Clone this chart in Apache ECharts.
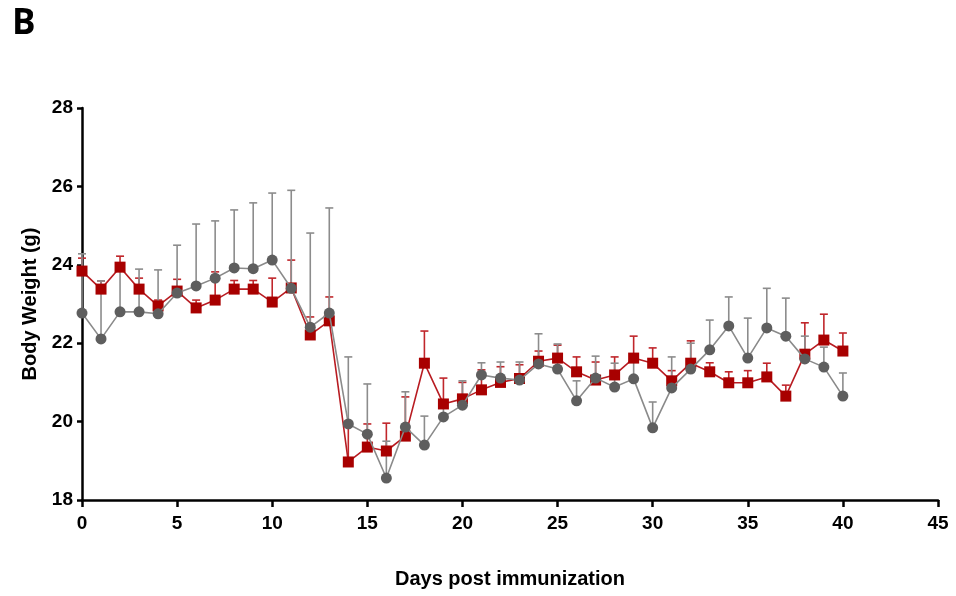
<!DOCTYPE html>
<html>
<head>
<meta charset="utf-8">
<script src="https://cdn.jsdelivr.net/npm/echarts@6/dist/echarts.min.js"></script>
<style>
  html, body { margin: 0; padding: 0; background: #fff; }
  #main { width: 956px; height: 596px; }
</style>
</head>
<body>
<div id="main"></div>
<script>
// days 0..40
const days = [0,1,2,3,4,5,6,7,8,9,10,11,12,13,14,15,16,17,18,19,20,21,22,23,24,25,26,27,28,29,30,31,32,33,34,35,36,37,38,39,40];

// grey circles: mean and top of error bar
const greyMean = [22.77,22.11,22.8,22.8,22.75,23.28,23.46,23.66,23.92,23.9,24.12,23.4,22.41,22.77,19.94,19.68,18.56,19.86,19.4,20.12,20.42,21.19,21.11,21.06,21.47,21.34,20.53,21.11,20.88,21.09,19.84,20.86,21.34,21.83,22.44,21.62,22.39,22.18,21.6,21.39,20.65];
const greyTop = [24.28,23.59,24.0,23.89,23.87,24.5,25.04,25.12,25.4,25.58,25.83,25.9,24.81,25.45,21.65,20.96,19.5,20.76,20.14,20.5,21.04,21.5,21.52,21.52,22.24,21.98,21.04,21.67,21.49,21.6,20.5,21.65,22.0,22.59,23.18,22.64,23.4,23.15,22.18,21.9,21.24];

// red squares
const redMean = [23.84,23.38,23.94,23.38,22.95,23.33,22.9,23.1,23.38,23.38,23.05,23.41,22.21,22.57,18.97,19.35,19.25,19.63,21.49,20.45,20.58,20.81,21.0,21.1,21.54,21.62,21.27,21.06,21.19,21.62,21.49,21.04,21.49,21.27,20.99,20.99,21.14,20.65,21.72,22.08,21.8];
const redTop = [24.17,23.59,24.22,23.66,23.1,23.63,23.1,23.82,23.6,23.6,23.66,24.12,22.67,23.18,19.9,19.94,19.96,20.63,22.31,21.11,21.0,21.32,21.4,21.45,21.8,21.95,21.65,21.52,21.65,22.18,21.88,21.3,22.06,21.5,21.27,21.3,21.49,20.93,22.52,22.74,22.26];

const GREY = '#5e5e5e', GREY_LINE = '#8a8a8a', GREY_ERR = '#8c8c8c';
const RED = '#a80000', RED_LINE = '#b81c22', RED_ERR = '#c0262b';

function pairs(means) { return days.map((d, i) => [d, means[i]]); }
function errData(means, tops) { return days.map((d, i) => [d, means[i], tops[i]]); }

function errRender(color) {
  return function (params, api) {
    const base = api.coord([api.value(0), api.value(1)]);
    const top = api.coord([api.value(0), api.value(2)]);
    const hw = 4;
    return {
      type: 'group',
      children: [
        { type: 'line', shape: { x1: base[0], y1: base[1], x2: top[0], y2: top[1] },
          style: { stroke: color, lineWidth: 1.6 } },
        { type: 'line', shape: { x1: top[0] - hw, y1: top[1], x2: top[0] + hw, y2: top[1] },
          style: { stroke: color, lineWidth: 1.6 } }
      ]
    };
  };
}

const chart = echarts.init(document.getElementById('main'));
const font = '"Liberation Sans", Arial, sans-serif';
const narrow = '"Liberation Sans Narrow", "Arial Narrow", "Liberation Sans", sans-serif';

chart.setOption({
  animation: false,
  graphic: [{
    type: 'text', left: 12, top: 7,
    style: { text: 'B', font: 'bold 35px "Open Sans", "DejaVu Sans", sans-serif', fill: '#000' }
  }],
  grid: { left: 82, right: 18, top: 108, bottom: 96 },
  xAxis: {
    type: 'value', min: 0, max: 45, interval: 5,
    name: 'Days post immunization', nameLocation: 'middle', nameGap: 69,
    nameTextStyle: { fontFamily: font, fontWeight: 'bold', fontSize: 20, color: '#000' },
    axisLine: { onZero: false, lineStyle: { color: '#000', width: 2.5 } },
    axisTick: { show: true, length: 7, lineStyle: { color: '#000', width: 2.5 } },
    axisLabel: { fontFamily: narrow, fontWeight: 'bold', fontSize: 19, color: '#000', margin: 14 },
    splitLine: { show: false }
  },
  yAxis: {
    type: 'value', min: 18, max: 28, interval: 2,
    name: 'Body Weight (g)', nameLocation: 'middle', nameGap: 41,
    nameTextStyle: { fontFamily: font, fontWeight: 'bold', fontSize: 20, color: '#000' },
    axisLine: { show: true, onZero: false, lineStyle: { color: '#000', width: 2.5 } },
    axisTick: { show: true, length: 5, lineStyle: { color: '#000', width: 2.5 } },
    axisLabel: { fontFamily: narrow, fontWeight: 'bold', fontSize: 19, color: '#000', margin: 9 },
    splitLine: { show: false }
  },
  series: [
    { type: 'custom', name: 'redErr', renderItem: errRender(RED_ERR),
      data: errData(redMean, redTop), encode: { x: 0, y: [1, 2] }, z: 1 },
    { type: 'custom', name: 'greyErr', renderItem: errRender(GREY_ERR),
      data: errData(greyMean, greyTop), encode: { x: 0, y: [1, 2] }, z: 1 },
    { type: 'line', name: 'red', data: pairs(redMean), symbol: 'rect', symbolSize: 11,
      itemStyle: { color: RED }, lineStyle: { color: RED_LINE, width: 1.6 }, z: 3 },
    { type: 'line', name: 'grey', data: pairs(greyMean), symbol: 'circle', symbolSize: 11,
      itemStyle: { color: GREY }, lineStyle: { color: GREY_LINE, width: 1.6 }, z: 4 }
  ]
});
</script>
</body>
</html>
